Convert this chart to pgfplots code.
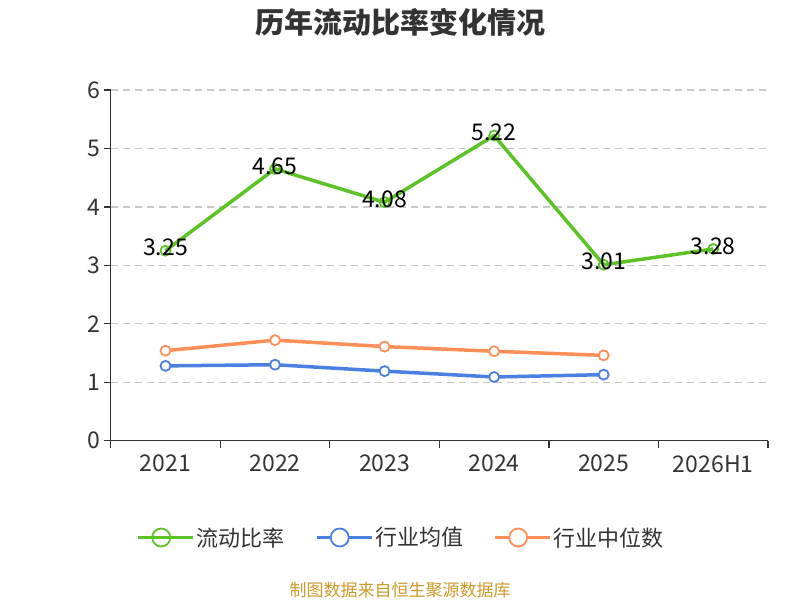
\documentclass[border=0pt]{standalone}
\usepackage{pgfplots}
\pgfplotsset{compat=1.18}
\usepackage{fontspec}
\setmainfont{Noto Sans CJK SC}
\definecolor{cgreen}{RGB}{91,196,36}
\definecolor{cblue}{RGB}{74,128,226}
\definecolor{corange}{RGB}{255,142,87}
\definecolor{axisgray}{RGB}{51,51,51}
\definecolor{gridgray}{RGB}{200,200,200}
\definecolor{srcgold}{RGB}{204,153,41}
\begin{document}
\begin{tikzpicture}[x=1pt,y=1pt]
\path[use as bounding box] (0,0) rectangle (800,600);
\node[font=\fontsize{29}{32}\selectfont\bfseries, text=axisgray] at (400,578) {历年流动比率变化情况};
\node[font=\fontsize{17}{20}\selectfont, text=srcgold] at (400,10) {制图数据来自恒生聚源数据库};
\begin{axis}[
  at={(110.7pt,159.3pt)}, anchor=south west,
  scale only axis, width=657.3pt, height=350.7pt,
  xmin=-0.5, xmax=5.5, ymin=0, ymax=6,
  axis lines*=left,
  axis line style={axisgray, line width=1.3pt},
  /pgf/number format/assume math mode=true,
  major tick length=7pt,
  xtick={-0.5,0.5,1.5,2.5,3.5,4.5,5.5},
  xticklabels={},
  x tick style={axisgray, line width=1.3pt},
  extra x ticks={0,1,2,3,4,5},
  extra x tick labels={2021,2022,2023,2024,2025,2026H1},
  extra x tick style={major tick length=0pt, grid=none, tick style={draw=none}},
  ytick={0,1,2,3,4,5,6},
  tick align=outside,
  y tick style={axisgray, line width=1.3pt},
  ymajorgrids,
  grid style={gridgray, line width=1.2pt, dash pattern=on 7pt off 5pt},
  ticklabel style={font=\fontsize{23}{26}\selectfont, text=axisgray},
  xticklabel style={yshift=-11pt},
  yticklabel style={xshift=0pt},
  clip=false,
  legend columns=3,
  legend style={at={(0.442,-0.276)}, anchor=center, draw=none, fill=none,
    font=\fontsize{22}{25}\selectfont, text=axisgray,
    /tikz/every even column/.append style={column sep=28pt},
    inner sep=0pt},
  legend image code/.code={
    \path (0pt,0pt) -- (55pt,0pt);
    \draw[#1, mark=none, line width=2pt] (0pt,0pt) -- (46pt,0pt);
    \draw[#1, line width=1.8pt, mark size=9pt] plot coordinates {(23pt,0pt)};
  },
]
\addplot[cgreen, line width=3.5pt, mark=o, mark size=5pt, mark options={fill=white, line width=1.8pt},
  nodes near coords, point meta=explicit symbolic,
  every node near coord/.style={anchor=center, yshift=3pt, text=black, font=\fontsize{23}{26}\selectfont}]
  coordinates {(0,3.25)[3.25] (1,4.65)[4.65] (2,4.08)[4.08] (3,5.22)[5.22] (4,3.01)[3.01] (5,3.28)[3.28]};
\addlegendentry{流动比率}
\addplot[cblue, line width=3.5pt, mark=*, mark size=5pt, mark options={fill=white, line width=1.8pt}]
  coordinates {(0,1.28) (1,1.30) (2,1.19) (3,1.09) (4,1.13)};
\addlegendentry{行业均值}
\addplot[corange, line width=3.5pt, mark=*, mark size=5pt, mark options={fill=white, line width=1.8pt}]
  coordinates {(0,1.54) (1,1.72) (2,1.61) (3,1.53) (4,1.46)};
\addlegendentry{行业中位数}
\end{axis}
\end{tikzpicture}
\end{document}
